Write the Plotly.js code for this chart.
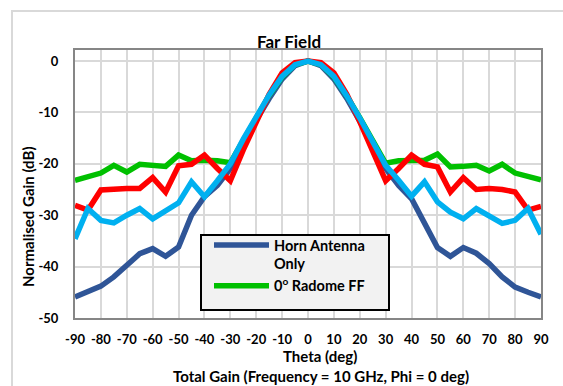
<!DOCTYPE html>
<html><head><meta charset="utf-8">
<script src="https://cdn.plot.ly/plotly-3.0.1.min.js"></script>
<style>html,body{margin:0;padding:0;background:#fff}#chart{width:563px;height:386px}</style>
</head><body><div id="chart"></div>
<script>
var theta = [-90,-85,-80,-75,-70,-65,-60,-55,-50,-45,-40,-35,-30,-25,-20,-15,-10,-5,0,5,10,15,20,25,30,35,40,45,50,55,60,65,70,75,80,85,90];
var hornOnly = [-45.9,-44.8,-43.8,-42.0,-39.6,-37.5,-36.5,-38.0,-36.2,-30.0,-26.4,-24.2,-20.9,-16.0,-11.5,-7.3,-3.5,-0.9,0,-0.9,-3.5,-7.3,-11.6,-16.2,-20.9,-24.2,-26.8,-31.3,-36.3,-38.0,-36.3,-37.4,-39.4,-42.0,-44.0,-45.0,-45.9];
var radome0 = [-23.2,-22.5,-21.8,-20.3,-21.6,-20.1,-20.3,-20.5,-18.3,-19.4,-19.3,-19.4,-19.8,-15.3,-10.8,-6.7,-3.1,-0.7,0,-0.7,-3.1,-6.8,-11.0,-15.5,-19.9,-19.4,-19.3,-19.3,-18.1,-20.6,-20.5,-20.3,-21.4,-20.1,-21.8,-22.5,-23.1];
var redSeries = [-28.1,-29.0,-25.1,-24.9,-24.8,-24.8,-22.7,-25.5,-20.4,-20.1,-18.3,-20.9,-23.3,-17.3,-11.8,-6.5,-2.3,-0.3,0,-0.3,-2.3,-6.5,-11.8,-17.5,-23.3,-20.9,-18.3,-20.1,-20.6,-25.5,-22.7,-25.0,-24.8,-25.0,-25.5,-29.0,-28.3];
var cyanSeries = [-34.6,-28.7,-31.0,-31.5,-30.0,-28.7,-30.7,-29.2,-27.6,-23.5,-26.4,-23.3,-20.0,-15.2,-10.9,-6.6,-3.0,-0.7,0,-0.7,-3.0,-6.8,-11.1,-15.5,-20.3,-23.2,-26.3,-23.5,-27.4,-29.4,-30.7,-28.7,-30.2,-31.6,-31.0,-28.7,-33.7];
var names = ["Horn Antenna<br>Only", "0<sup>o</sup> Radome FF", "Radome A", "Radome B"];
var xTicks = [-90,-80,-70,-60,-50,-40,-30,-20,-10,0,10,20,30,40,50,60,70,80,90];
var yTicks = [0,-10,-20,-30,-40,-50];

var W = 563, H = 386, ML = 75, MR = 22, MT = 50, MB = 68;
var PW = W - ML - MR, PH = H - MT - MB;
function px(x){ return (x - ML) / PW; }
function py(y){ return (H - MB - y) / PH; }
var F = 'Lato, "Open Sans", sans-serif';

var traces = [
  {x: theta, y: hornOnly, name: names[0], mode: 'lines', line: {color: '#2F5597', width: 5.5}},
  {x: theta, y: radome0, name: names[1], mode: 'lines', line: {color: '#00C000', width: 5.5}},
  {x: theta, y: redSeries, name: names[2], mode: 'lines', line: {color: '#FF0000', width: 5.5}, showlegend: false},
  {x: theta, y: cyanSeries, name: names[3], mode: 'lines', line: {color: '#00B0F0', width: 5.5}, showlegend: false}
];

var layout = {
  width: W, height: H,
  margin: {l: ML, r: MR, t: MT, b: MB, pad: 0},
  paper_bgcolor: '#fff', plot_bgcolor: '#fff',
  font: {family: F, size: 13, color: '#000', weight: 700},
  title: {text: 'Far Field', font: {family: F, size: 17, weight: 700, color: '#000'},
          x: px(289), xref: 'paper', xanchor: 'center', y: 1 - 42 / H, yref: 'container', yanchor: 'middle'},
  xaxis: {range: [-90, 90], tickvals: xTicks, ticktext: xTicks.map(String), showgrid: true, gridcolor: '#D9D9D9', gridwidth: 2,
          zeroline: false, showline: true, linecolor: '#868686', linewidth: 2, mirror: true, ticks: '',
          tickfont: {family: F, size: 13, weight: 700, color: '#000'}, ticklabelstandoff: 8},
  yaxis: {range: [-50, 2.14], tickvals: yTicks, ticktext: yTicks.map(String), showgrid: true, gridcolor: '#D9D9D9', gridwidth: 2,
          zeroline: false, showline: true, linecolor: '#868686', linewidth: 2, mirror: true, ticks: '',
          tickfont: {family: F, size: 13, weight: 700, color: '#000'}, ticklabelstandoff: 12},
  showlegend: true,
  legend: {x: px(209), y: py(229), xanchor: 'left', yanchor: 'top', bgcolor: 'rgba(0,0,0,0)', borderwidth: 0, valign: 'top',
           font: {family: F, size: 14.5, weight: 700, color: '#000'}, itemwidth: 55, tracegroupgap: 0},
  shapes: [
    {type: 'rect', xref: 'paper', yref: 'paper', x0: px(201), x1: px(389), y0: py(235), y1: py(310),
     fillcolor: '#F2F2F2', line: {color: '#000', width: 2}, layer: 'above'},
    {type: 'path', xref: 'paper', yref: 'paper', path: 'M' + px(600) + ',' + py(11) + ' L' + px(12) + ',' + py(11) + ' L' + px(12) + ',' + py(400),
     line: {color: '#D9D9D9', width: 2}}
  ],
  annotations: [
    {text: 'Theta (deg)', xref: 'paper', yref: 'paper', x: px(320), y: py(356), xanchor: 'center', yanchor: 'middle', showarrow: false,
     font: {family: F, size: 15, weight: 700, color: '#000'}},
    {text: 'Total Gain (Frequency = 10 GHz, Phi = 0 deg)', xref: 'paper', yref: 'paper', x: px(321), y: py(376), xanchor: 'center', yanchor: 'middle', showarrow: false,
     font: {family: F, size: 15, weight: 700, color: '#000'}},
    {text: 'Normalised Gain (dB)', xref: 'paper', yref: 'paper', x: px(28), y: py(217), xanchor: 'center', yanchor: 'middle', textangle: -90, showarrow: false,
     font: {family: F, size: 15, weight: 700, color: '#000'}}
  ]
};
Plotly.newPlot('chart', traces, layout, {displayModeBar: false, staticPlot: true});
</script></body></html>
